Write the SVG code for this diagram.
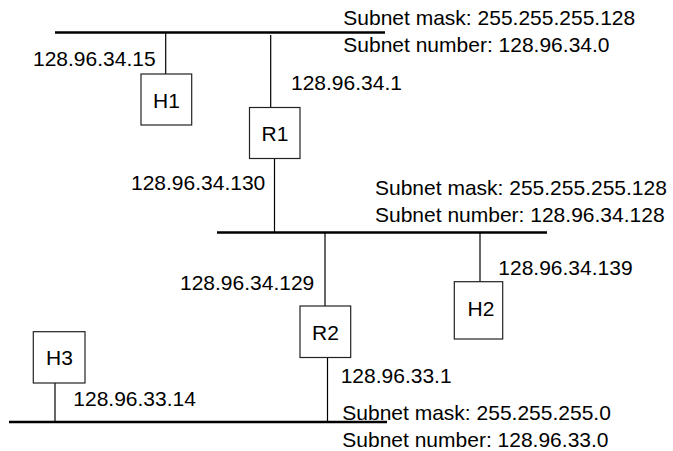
<svg xmlns="http://www.w3.org/2000/svg" width="673" height="451" viewBox="0 0 673 451">
<style>
text{font-family:"Liberation Sans",Arial,sans-serif;font-size:21px;fill:#000}
.bus{stroke:#000;stroke-width:2.5;fill:none}
.ln{stroke:#000;stroke-width:1.2;fill:none}
.box{fill:#fff;stroke:#222;stroke-width:1.2}
.c{text-anchor:middle}
</style>
<rect width="673" height="451" fill="#fff"/>
<g id="connectors">
<line class="bus" x1="55" y1="32.5" x2="385" y2="32.5"/>
<line class="bus" x1="217" y1="232.5" x2="547" y2="232.5"/>
<line class="bus" x1="9" y1="422" x2="387" y2="422"/>
<line class="ln" x1="165.7" y1="33" x2="165.7" y2="74"/>
<line class="ln" x1="270.7" y1="35" x2="270.7" y2="107.5"/>
<line class="ln" x1="274.5" y1="158.5" x2="274.5" y2="232"/>
<line class="ln" x1="325" y1="233" x2="325" y2="306"/>
<line class="ln" x1="327.5" y1="357.5" x2="327.5" y2="421"/>
<line class="ln" x1="480" y1="233" x2="480" y2="281.7"/>
<line class="ln" x1="55" y1="383" x2="55" y2="421"/>
</g>
<g id="H1"><rect class="box" x="141" y="74" width="50.7" height="51"/><text class="c" x="166.5" y="108">H1</text></g>
<g id="R1"><rect class="box" x="249.5" y="107.5" width="50.5" height="51"/><text class="c" x="275" y="140.5">R1</text></g>
<g id="R2"><rect class="box" x="300" y="306" width="50.7" height="51.5"/><text class="c" x="325.5" y="340">R2</text></g>
<g id="H2"><rect class="box" x="454.3" y="281.7" width="48.4" height="57.3"/><text class="c" x="481" y="315.7">H2</text></g>
<g id="H3"><rect class="box" x="33.3" y="331.7" width="51.7" height="51.3"/><text class="c" x="59.5" y="365">H3</text></g>
<g id="labels">
<text x="33" y="65.7">128.96.34.15</text>
<text x="291" y="90">128.96.34.1</text>
<text x="131" y="190">128.96.34.130</text>
<text x="343.3" y="25">Subnet mask: 255.255.255.128</text>
<text x="343.3" y="52.3">Subnet number: 128.96.34.0</text>
<text x="375" y="195">Subnet mask: 255.255.255.128</text>
<text x="375" y="221.7">Subnet number: 128.96.34.128</text>
<text x="180" y="290">128.96.34.129</text>
<text x="498.3" y="275">128.96.34.139</text>
<text x="340.7" y="383.3">128.96.33.1</text>
<text x="73.3" y="405.7">128.96.33.14</text>
<text x="342.3" y="420">Subnet mask: 255.255.255.0</text>
<text x="342.3" y="446.7">Subnet number: 128.96.33.0</text>
</g>
</svg>
